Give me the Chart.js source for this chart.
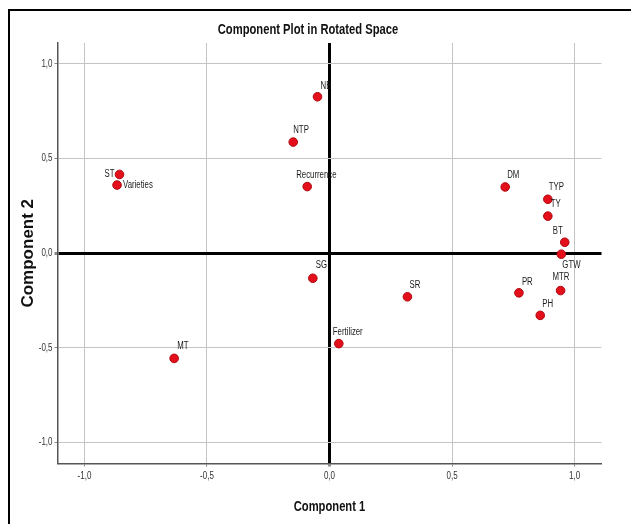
<!DOCTYPE html>
<html>
<head>
<meta charset="utf-8">
<script src="https://cdn.jsdelivr.net/npm/chart.js@4"></script>
<style>
  html, body { margin: 0; padding: 0; background: #fff; }
  #wrap { width: 631px; height: 524px; }
</style>
</head>
<body>
<div id="wrap"><canvas id="plot" width="631" height="524"></canvas></div>
<script>
const variables = ['NB', 'NTP', 'Recurrence', 'ST', 'Varieties', 'SG', 'MT', 'Fertilizer', 'SR',
    'DM', 'TYP', 'TY', 'BT', 'GTW', 'PR', 'MTR', 'PH'];
const component1 = [-0.049, -0.148, -0.091, -0.857, -0.867, -0.068, -0.634, 0.038, 0.318,
    0.717, 0.891, 0.891, 0.960, 0.946, 0.773, 0.943, 0.860];
const component2 = [0.826, 0.587, 0.352, 0.416, 0.360, -0.132, -0.555, -0.477, -0.230,
    0.350, 0.285, 0.196, 0.058, -0.005, -0.209, -0.197, -0.328];
const tickValues = [-1, -0.5, 0, 0.5, 1];

// where each point's label sits relative to the point (px)
const labelOffset = [[3, -11], [0, -12], [-11, -11], [-5, 0, 'right'], [6, 0], [3, -13], [3, -12],
    [-6, -11], [2, -12], [2, -12], [1, -12], [3, -12], [-12, -11], [1, 11], [3, -11], [-8, -13], [2, -11]];

const fontFam = '"Liberation Sans", Arial, sans-serif';
const fmt = v => v.toFixed(1).replace('.', ',');

// SPSS uses a narrow face; squeeze the text horizontally
function narrowText(ctx, text, x, y, align, squeeze) {
    ctx.save();
    ctx.translate(x, y);
    ctx.scale(squeeze, 1);
    ctx.textAlign = align;
    ctx.fillText(text, 0, 0);
    ctx.restore();
}

const decor = {
    id: 'decor',
    afterDatasetsDraw(chart) {
        const ctx = chart.ctx;
        const meta = chart.getDatasetMeta(0);
        ctx.save();
        ctx.fillStyle = '#1a1a1a';
        ctx.font = '10px ' + fontFam;
        ctx.textBaseline = 'middle';
        meta.data.forEach((pt, i) => {
            const [dx, dy, align] = labelOffset[i];
            narrowText(ctx, variables[i], pt.x + dx, pt.y + dy, align || 'left', 0.78);
        });

        // tick labels
        ctx.fillStyle = '#333';
        ctx.font = '10px ' + fontFam;
        const xs = chart.scales.x, ys = chart.scales.y;
        tickValues.forEach(v => {
            narrowText(ctx, fmt(v), xs.getPixelForValue(v), 476, 'center', 0.8);
            narrowText(ctx, fmt(v), 52.5, ys.getPixelForValue(v), 'right', 0.8);
        });
        ctx.restore();
    },
    afterDraw(chart) {
        const ctx = chart.ctx;
        const a = chart.chartArea;
        ctx.save();
        // outer frame (left and top only visible)
        ctx.strokeStyle = '#000';
        ctx.lineWidth = 2;
        ctx.beginPath();
        ctx.moveTo(9, 524);
        ctx.lineTo(9, 10);
        ctx.lineTo(631, 10);
        ctx.stroke();

        ctx.fillStyle = '#111';
        ctx.textBaseline = 'middle';
        ctx.font = 'bold 14px ' + fontFam;
        narrowText(ctx, 'Component Plot in Rotated Space', 308, 30, 'center', 0.8);
        narrowText(ctx, 'Component 1', 329.5, 507, 'center', 0.8);

        ctx.translate(28, (a.top + a.bottom) / 2);
        ctx.rotate(-Math.PI / 2);
        ctx.font = 'bold 17px ' + fontFam;
        ctx.textAlign = 'center';
        ctx.fillText('Component 2', 0, 0);
        ctx.restore();
    }
};

const gridColor = ctx => ctx.tick && ctx.tick.value === 0 ? '#000' : '#c4c4c4';
const gridWidth = ctx => ctx.tick && ctx.tick.value === 0 ? 3 : 1;

new Chart(document.getElementById('plot'), {
    type: 'scatter',
    data: {
        datasets: [{
            data: component1.map((x, i) => ({ x: x, y: component2[i] })),
            backgroundColor: '#e3101b',
            borderColor: '#b0060e',
            borderWidth: 1,
            pointRadius: 4.3,
            pointHoverRadius: 4.3
        }]
    },
    options: {
        responsive: false,
        animation: false,
        layout: { padding: { top: 43, right: 29.5, left: 0, bottom: 0 } },
        plugins: {
            legend: { display: false },
            tooltip: { enabled: false }
        },
        scales: {
            x: {
                type: 'linear',
                min: -1.11,
                max: 1.11,
                afterBuildTicks: s => { s.ticks = tickValues.map(v => ({ value: v })); },
                afterFit: s => { s.height = 60.5; },
                grid: { color: gridColor, lineWidth: gridWidth, tickLength: 3, tickColor: '#888' },
                border: { color: '#555', width: 1.5 },
                ticks: { display: false }
            },
            y: {
                type: 'linear',
                min: -1.11,
                max: 1.11,
                afterBuildTicks: s => { s.ticks = tickValues.map(v => ({ value: v })); },
                afterFit: s => { s.width = 57.5; },
                grid: { color: gridColor, lineWidth: gridWidth, tickLength: 3, tickColor: '#888' },
                border: { color: '#555', width: 1.5 },
                ticks: { display: false }
            }
        }
    },
    plugins: [decor]
});
</script>
</body>
</html>
